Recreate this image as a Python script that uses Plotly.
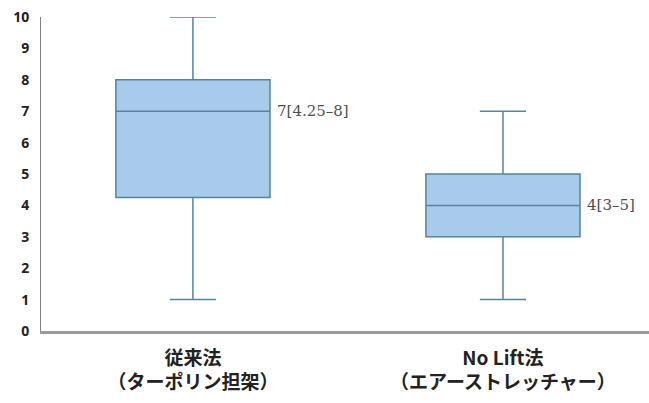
import plotly.graph_objects as go

# Summary statistics per method
categories = ["従来法<br>（ターポリン担架）", "No Lift法<br>（エアーストレッチャー）"]
positions = [0, 1]
q1_vals = [4.25, 3]
median_vals = [7, 4]
q3_vals = [8, 5]
low_vals = [1, 1]
high_vals = [10, 7]
value_labels = ["7[4.25–8]", "4[3–5]"]
y_ticks = list(range(0, 11))

fill_color = "#A8CBEC"
edge_color = "#55849F"

fig = go.Figure()
for i in range(len(categories)):
    fig.add_trace(go.Box(
        x=[positions[i]],
        q1=[q1_vals[i]], median=[median_vals[i]], q3=[q3_vals[i]],
        lowerfence=[low_vals[i]], upperfence=[high_vals[i]],
        width=0.497, whiskerwidth=0.3,
        fillcolor=fill_color,
        line=dict(color=edge_color, width=1.5),
        boxpoints=False, showlegend=False, hoverinfo="skip",
    ))
    fig.add_annotation(
        x=positions[i] + 0.265, y=median_vals[i], text=value_labels[i],
        xref="x", yref="y", xanchor="left", yanchor="middle",
        showarrow=False,
        font=dict(family="DejaVu Serif", size=15, color="#505050"),
    )

fig.update_layout(
    width=649, height=403,
    margin=dict(l=41, r=0, t=17, b=72),
    plot_bgcolor="white", paper_bgcolor="white",
    xaxis=dict(
        range=[-0.49, 1.471], tickvals=positions, ticktext=categories,
        showgrid=False, zeroline=False, showline=True,
        linecolor="#9A9A9A", linewidth=2.5, ticks="", ticklabelstandoff=8,
        tickfont=dict(family="Noto Sans CJK JP", size=19, color="#222222", weight="bold"),
    ),
    yaxis=dict(
        range=[0, 10], tickvals=y_ticks,
        showgrid=False, zeroline=False, showline=True,
        linecolor="#808080", linewidth=1, ticks="", ticklabelstandoff=8,
        tickfont=dict(family="Open Sans", size=14, color="#222222", weight="bold"),
    ),
)

fig.write_html("out.html")
